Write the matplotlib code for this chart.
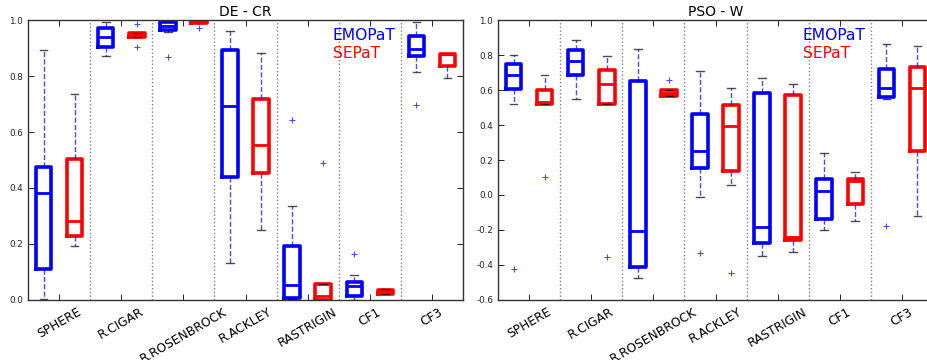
import matplotlib
matplotlib.use('Agg')
import matplotlib.pyplot as plt

FUNCS = ['SPHERE', 'R.CIGAR', 'R.ROSENBROCK', 'R.ACKLEY', 'RASTRIGIN', 'CF1', 'CF3']
METHODS = ['EMOPaT', 'SEPaT']
COLORS = {'EMOPaT': 'blue', 'SEPaT': 'red'}

# DE - CR : box summaries per function (order of FUNCS)
de_emo_med = [0.382, 0.939, 0.980, 0.695, 0.054, 0.048, 0.896]
de_emo_q1 = [0.109, 0.906, 0.965, 0.441, 0.007, 0.014, 0.871]
de_emo_q3 = [0.474, 0.973, 0.995, 0.894, 0.191, 0.063, 0.943]
de_emo_lo = [0.002, 0.872, 0.957, 0.130, 0.002, 0.000, 0.815]
de_emo_hi = [0.894, 0.994, 1.000, 0.962, 0.334, 0.090, 0.993]
de_emo_fl = [[], [], [0.868], [], [0.643], [0.165], [0.698]]

de_sep_med = [0.282, 0.948, 0.995, 0.554, 0.012, 0.028, 0.878]
de_sep_q1 = [0.229, 0.940, 0.991, 0.453, 0.000, 0.020, 0.835]
de_sep_q3 = [0.505, 0.955, 1.000, 0.719, 0.056, 0.036, 0.880]
de_sep_lo = [0.193, 0.940, 0.991, 0.248, 0.000, 0.020, 0.794]
de_sep_hi = [0.736, 0.955, 1.000, 0.885, 0.056, 0.040, 0.880]
de_sep_fl = [[], [0.986, 0.905], [0.974], [], [0.491], [], []]

# PSO - W
pso_emo_med = [0.688, 0.767, -0.208, 0.252, -0.183, 0.022, 0.615]
pso_emo_q1 = [0.606, 0.688, -0.411, 0.156, -0.273, -0.139, 0.564]
pso_emo_q3 = [0.749, 0.830, 0.652, 0.462, 0.587, 0.089, 0.724]
pso_emo_lo = [0.523, 0.548, -0.476, -0.009, -0.349, -0.198, 0.548]
pso_emo_hi = [0.803, 0.885, 0.839, 0.711, 0.672, 0.240, 0.864]
pso_emo_fl = [[-0.426], [], [], [-0.332], [], [], [-0.175]]

pso_sep_med = [0.530, 0.636, 0.585, 0.393, -0.240, 0.081, 0.615]
pso_sep_q1 = [0.523, 0.523, 0.567, 0.135, -0.256, -0.051, 0.252]
pso_sep_q3 = [0.604, 0.715, 0.602, 0.514, 0.573, 0.089, 0.732]
pso_sep_lo = [0.523, 0.523, 0.567, 0.058, -0.324, -0.148, -0.118]
pso_sep_hi = [0.688, 0.795, 0.602, 0.610, 0.636, 0.131, 0.853]
pso_sep_fl = [[0.104], [-0.353], [0.657], [-0.445], [], [], []]


def stats(med, q1, q3, lo, hi, fl):
    return [dict(med=m, q1=a, q3=b, whislo=l, whishi=h, fliers=f)
            for m, a, b, l, h, f in zip(med, q1, q3, lo, hi, fl)]


panels = [
    ('DE - CR', (0.0, 1.0),
     {'EMOPaT': stats(de_emo_med, de_emo_q1, de_emo_q3, de_emo_lo, de_emo_hi, de_emo_fl),
      'SEPaT': stats(de_sep_med, de_sep_q1, de_sep_q3, de_sep_lo, de_sep_hi, de_sep_fl)}),
    ('PSO - W', (-0.6, 1.0),
     {'EMOPaT': stats(pso_emo_med, pso_emo_q1, pso_emo_q3, pso_emo_lo, pso_emo_hi, pso_emo_fl),
      'SEPaT': stats(pso_sep_med, pso_sep_q1, pso_sep_q3, pso_sep_lo, pso_sep_hi, pso_sep_fl)}),
]

fig = plt.figure(figsize=(9.27, 3.6), dpi=100)
positions = [0.0302, 0.5372]
n = len(FUNCS)
for left, (title, ylim, data) in zip(positions, panels):
    ax = fig.add_axes([left, 0.1675, 0.4693, 0.7758])
    for k, meth in enumerate(METHODS):
        c = COLORS[meth]
        pos = [2 * i + 1 + k for i in range(n)]
        ax.bxp(data[meth], positions=pos, widths=0.5, manage_ticks=False,
               boxprops=dict(color=c, lw=2.6),
               medianprops=dict(color=c, lw=2.0),
               whiskerprops=dict(color='blue', ls='--', lw=1.0, alpha=0.7),
               capprops=dict(color='black', lw=1.0, alpha=0.7),
               flierprops=dict(marker='+', markeredgecolor='blue', markersize=5,
                               markeredgewidth=0.8, alpha=0.7, linestyle='none'))
    for i in range(1, n):
        ax.axvline(2 * i + 0.5, color='gray', ls=':', lw=1)
    ax.set_xlim(0.5, 2 * n + 0.5)
    ax.set_ylim(*ylim)
    ax.set_xticks([2 * i + 1.5 for i in range(n)])
    ax.set_xticklabels(FUNCS, rotation=30, fontsize=8.8, ha='center')
    yt = [round(ylim[0] + 0.2 * j, 1) for j in range(int(round((ylim[1] - ylim[0]) / 0.2)) + 1)]
    ax.set_yticks(yt)
    ax.set_yticklabels(['%.1f' % v if v != 0 else '0.0' for v in yt], fontsize=6.3,
                       color='#222222')
    ax.tick_params(direction='in', top=True, right=True, length=4, width=0.6)
    ax.tick_params(axis='x', pad=4)
    for s in ax.spines.values():
        s.set_linewidth(1.0)
        s.set_color('#333333')
    ax.set_title(title, fontsize=10, pad=3)
    ax.text(0.701, 0.945, 'EMOPaT', color='blue', fontsize=11.2, transform=ax.transAxes,
            va='center', ha='left')
    ax.text(0.701, 0.881, 'SEPaT', color='red', fontsize=11.2, transform=ax.transAxes,
            va='center', ha='left')

fig.savefig('out.png', dpi=100)
